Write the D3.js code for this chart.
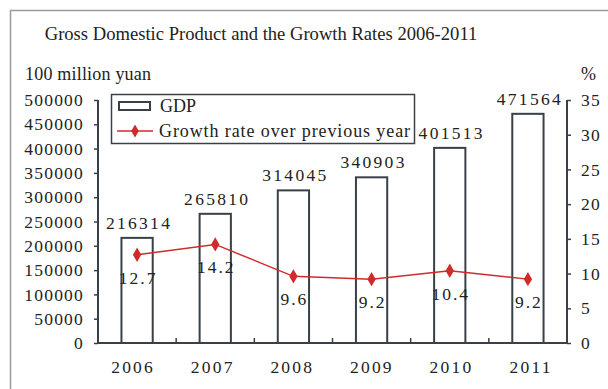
<!DOCTYPE html>
<html>
<head>
<meta charset="utf-8">
<script src="https://cdn.jsdelivr.net/npm/d3@7"></script>
<style>
  body { margin: 0; background: #fff; }
  svg text { font-family: "Liberation Serif", "Times New Roman", serif !important; fill: #222; }
</style>
</head>
<body>
<script>
const years = ["2006", "2007", "2008", "2009", "2010", "2011"];
const gdp = [216314, 265810, 314045, 340903, 401513, 471564];
const growth = [12.7, 14.2, 9.6, 9.2, 10.4, 9.2];
const leftTicks = [0, 50000, 100000, 150000, 200000, 250000, 300000, 350000, 400000, 450000, 500000];
const rightTicks = [0, 5, 10, 15, 20, 25, 30, 35];

const W = 608, H = 389;
const margin = { left: 98, right: 41, top: 100, bottom: 46 };
const plotW = W - margin.left - margin.right;
const plotH = H - margin.top - margin.bottom;

const svg = d3.select("body").append("svg")
    .attr("width", W).attr("height", H);

// outer frame
svg.append("rect")
    .attr("x", 10.5).attr("y", 10.5)
    .attr("width", W + 20).attr("height", H + 20)
    .attr("fill", "none").attr("stroke", "#9a9a9a").attr("stroke-width", 1.5);

svg.append("text")
    .attr("x", 261).attr("y", 40)
    .attr("text-anchor", "middle")
    .attr("font-size", 18.6)
    .text("Gross Domestic Product and the Growth Rates 2006-2011");

svg.append("text")
    .attr("x", 25).attr("y", 80)
    .attr("font-size", 18)
    .attr("letter-spacing", 0.2)
    .text("100 million yuan");

svg.append("text")
    .attr("x", 581).attr("y", 80)
    .attr("font-size", 18)
    .text("%");

const g = svg.append("g").attr("transform", `translate(${margin.left},${margin.top})`);

const x = d3.scaleBand().domain(years).range([0, plotW]).paddingInner(0.6).paddingOuter(0.3);
const xb = d3.scaleBand().domain(years).range([0, plotW]);
// year labels sit on a slightly wider spacing than the bars in the original
const xl = d3.scalePoint().domain(years).range([34, 432]);
const yL = d3.scaleLinear().domain([0, 500000]).range([plotH, 0]);
const yR = d3.scaleLinear().domain([0, 35]).range([plotH, 0]);
const cx = d => xb(d) + xb.bandwidth() / 2;

const axisColor = "#3a4048";

// left axis
const leftAxis = g.append("g")
    .call(d3.axisLeft(yL).tickValues(leftTicks).tickSize(4).tickPadding(10).tickFormat(d3.format("d")));
leftAxis.select(".domain").attr("stroke", axisColor).attr("stroke-width", 2).attr("d", `M0,0V${plotH}`);
leftAxis.selectAll(".tick line").attr("stroke", axisColor).attr("stroke-width", 1.5);
leftAxis.selectAll("text").attr("font-size", 17.5).attr("letter-spacing", 1.2).attr("fill", "#222");

// right axis
const rightAxis = g.append("g").attr("transform", `translate(${plotW},0)`)
    .call(d3.axisRight(yR).tickValues(rightTicks).tickSize(4).tickPadding(10));
rightAxis.select(".domain").attr("stroke", axisColor).attr("stroke-width", 2).attr("d", `M0,0V${plotH}`);
rightAxis.selectAll(".tick line").attr("stroke", axisColor).attr("stroke-width", 1.5);
rightAxis.selectAll("text").attr("font-size", 17.5).attr("letter-spacing", 1.2).attr("fill", "#222");

// bottom axis line + year labels
g.append("line")
    .attr("x1", 0).attr("x2", plotW).attr("y1", plotH).attr("y2", plotH)
    .attr("stroke", axisColor).attr("stroke-width", 2);
g.selectAll(".year").data(years).enter().append("text")
    .attr("x", d => xl(d)).attr("dx", 1.1)
    .attr("y", plotH + 30)
    .attr("text-anchor", "middle")
    .attr("font-size", 17.5).attr("letter-spacing", 2.2)
    .text(d => d);

// inner category ticks
g.selectAll(".cat-tick").data(years.slice(1)).enter().append("line")
    .attr("x1", d => xb(d)).attr("x2", d => xb(d))
    .attr("y1", plotH).attr("y2", plotH - 5)
    .attr("stroke", axisColor).attr("stroke-width", 1.5);

// bars
g.selectAll(".bar").data(gdp).enter().append("rect")
    .attr("x", (d, i) => x(years[i]))
    .attr("y", d => yL(d))
    .attr("width", x.bandwidth())
    .attr("height", d => plotH - yL(d))
    .attr("fill", "#fff").attr("stroke", axisColor).attr("stroke-width", 2);

g.selectAll(".bar-label").data(gdp).enter().append("text")
    .attr("x", (d, i) => cx(years[i])).attr("dx", 2)
    .attr("y", d => yL(d) - 9)
    .attr("text-anchor", "middle")
    .attr("font-size", 17.5).attr("letter-spacing", 2.3)
    .text(d => d);

// growth line
const lineColor = "#cf2b2b";
const line = d3.line()
    .x((d, i) => cx(years[i]))
    .y(d => yR(d));
g.append("path").datum(growth)
    .attr("d", line).attr("fill", "none")
    .attr("stroke", lineColor).attr("stroke-width", 1.5);

g.selectAll(".pt").data(growth).enter().append("path")
    .attr("d", d3.symbol().type(d3.symbolDiamond).size(60))
    .attr("transform", (d, i) => `translate(${cx(years[i])},${yR(d)})`)
    .attr("fill", lineColor);

g.selectAll(".gr-label").data(growth).enter().append("text")
    .attr("x", (d, i) => cx(years[i])).attr("dx", 1)
    .attr("y", d => yR(d) + 29)
    .attr("text-anchor", "middle")
    .attr("font-size", 17.5).attr("letter-spacing", 2)
    .text(d => d3.format(".1f")(d));

// legend
const lg = svg.append("g");
lg.append("rect")
    .attr("x", 111.5).attr("y", 94.5).attr("width", 303).attr("height", 49)
    .attr("fill", "#fff").attr("stroke", axisColor).attr("stroke-width", 1.5);
lg.append("rect")
    .attr("x", 119).attr("y", 102).attr("width", 31).attr("height", 8)
    .attr("fill", "#fff").attr("stroke", axisColor).attr("stroke-width", 2);
lg.append("text").attr("x", 160).attr("y", 112).attr("font-size", 18).text("GDP");
lg.append("line")
    .attr("x1", 117).attr("x2", 153).attr("y1", 131).attr("y2", 131)
    .attr("stroke", lineColor).attr("stroke-width", 1.5);
lg.append("path")
    .attr("d", d3.symbol().type(d3.symbolDiamond).size(50))
    .attr("transform", "translate(135,131)")
    .attr("fill", lineColor);
lg.append("text").attr("x", 159).attr("y", 137).attr("font-size", 18).attr("letter-spacing", 0.9)
    .text("Growth rate over previous year");
</script>
</body>
</html>
